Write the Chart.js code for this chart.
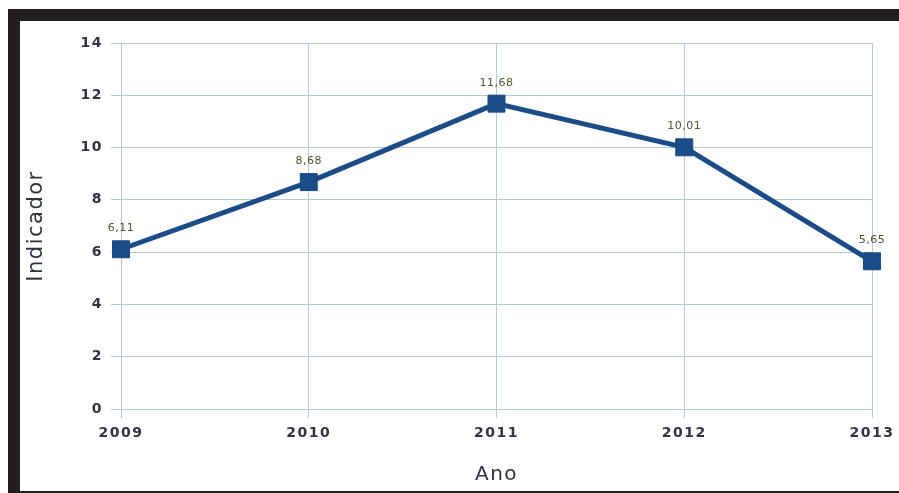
<!DOCTYPE html>
<html lang="pt">
<head>
  <meta charset="UTF-8" />
  <title>Indicador por Ano</title>
  <script src="https://cdn.jsdelivr.net/npm/chart.js"></script>
  <style>
    html, body {
      margin: 0;
      padding: 0;
      background: white;
      width: 899px;
      height: 493px;
      overflow: hidden;
    }

    .frame {
      position: absolute;
      left: 8px;
      top: 9px;
      width: 879px;
      height: 470px;
      border-top: 12px solid #231f20;
      border-left: 12px solid #231f20;
      border-bottom: 2px solid #231f20;
      background: white;
    }

    .chart-wrap {
      position: absolute;
      left: 0;
      top: 0;
      width: 879px;
      height: 470px;
    }
  </style>
</head>
<body>
  <div class="frame">
    <div class="chart-wrap">
      <canvas id="indicadorChart" width="879" height="470"></canvas>
    </div>
  </div>

  <script>
    const anos = ["2009", "2010", "2011", "2012", "2013"];
    const indicador = [6.11, 8.68, 11.68, 10.01, 5.65];
    const yTicks = [0, 2, 4, 6, 8, 10, 12, 14];

    const gridColor = "#b4c9d6";
    const textColor = "#2f3440";
    const fontFamily = "'DejaVu Sans', Verdana, sans-serif";

    // a little letter spacing for every text on the canvas
    const spacedText = {
      id: "spacedText",
      beforeDraw(chart) {
        chart.ctx.letterSpacing = "1.5px";
      }
    };

    // value labels above each point, with comma decimals
    const valueLabels = {
      id: "valueLabels",
      afterDatasetsDraw(chart) {
        const ctx = chart.ctx;
        const meta = chart.getDatasetMeta(0);
        ctx.save();
        ctx.letterSpacing = "0.5px";
        ctx.font = "11px " + fontFamily;
        ctx.fillStyle = "#5a4e32";
        ctx.textAlign = "center";
        ctx.textBaseline = "middle";
        meta.data.forEach((pt, i) => {
          const txt = indicador[i].toFixed(2).replace(".", ",");
          ctx.fillText(txt, pt.x, pt.y - 21);
        });
        ctx.restore();
      }
    };

    new Chart(document.getElementById("indicadorChart"), {
      type: "line",
      data: {
        labels: anos,
        datasets: [
          {
            data: indicador,
            borderColor: "#1b4c87",
            backgroundColor: "#1b4c87",
            borderWidth: 5,
            pointStyle: "rect",
            pointRadius: 12,
            pointBorderWidth: 1,
            pointHoverRadius: 12,
            tension: 0,
          },
        ],
      },
      options: {
        responsive: false,
        animation: false,
        layout: { padding: { left: 0, top: 22, right: 27, bottom: 0 } },
        plugins: {
          legend: { display: false },
          tooltip: { enabled: false },
        },
        scales: {
          x: {
            offset: false,
            grid: { color: gridColor, tickLength: 9, drawTicks: true },
            border: { color: gridColor },
            ticks: {
              color: textColor,
              padding: 7,
              font: { family: fontFamily, size: 14, weight: "bold" },
              maxRotation: 0,
            },
            title: {
              display: true,
              text: "Ano",
              color: textColor,
              padding: { top: 9 },
              font: { family: fontFamily, size: 20 },
            },
            afterFit(scale) { scale.height = 82; },
          },
          y: {
            min: 0,
            max: 14,
            afterBuildTicks(scale) {
              scale.ticks = yTicks.map(v => ({ value: v }));
            },
            grid: { color: gridColor, tickLength: 10 },
            border: { color: gridColor },
            ticks: {
              color: textColor,
              padding: 8,
              autoSkip: false,
              font: { family: fontFamily, size: 14, weight: "bold" },
            },
            title: {
              display: true,
              text: "Indicador",
              color: textColor,
              padding: { top: 4, bottom: 0 },
              font: { family: fontFamily, size: 21 },
            },
            afterFit(scale) { scale.width = 101; },
          },
        },
      },
      plugins: [spacedText, valueLabels],
    });
  </script>
</body>
</html>
